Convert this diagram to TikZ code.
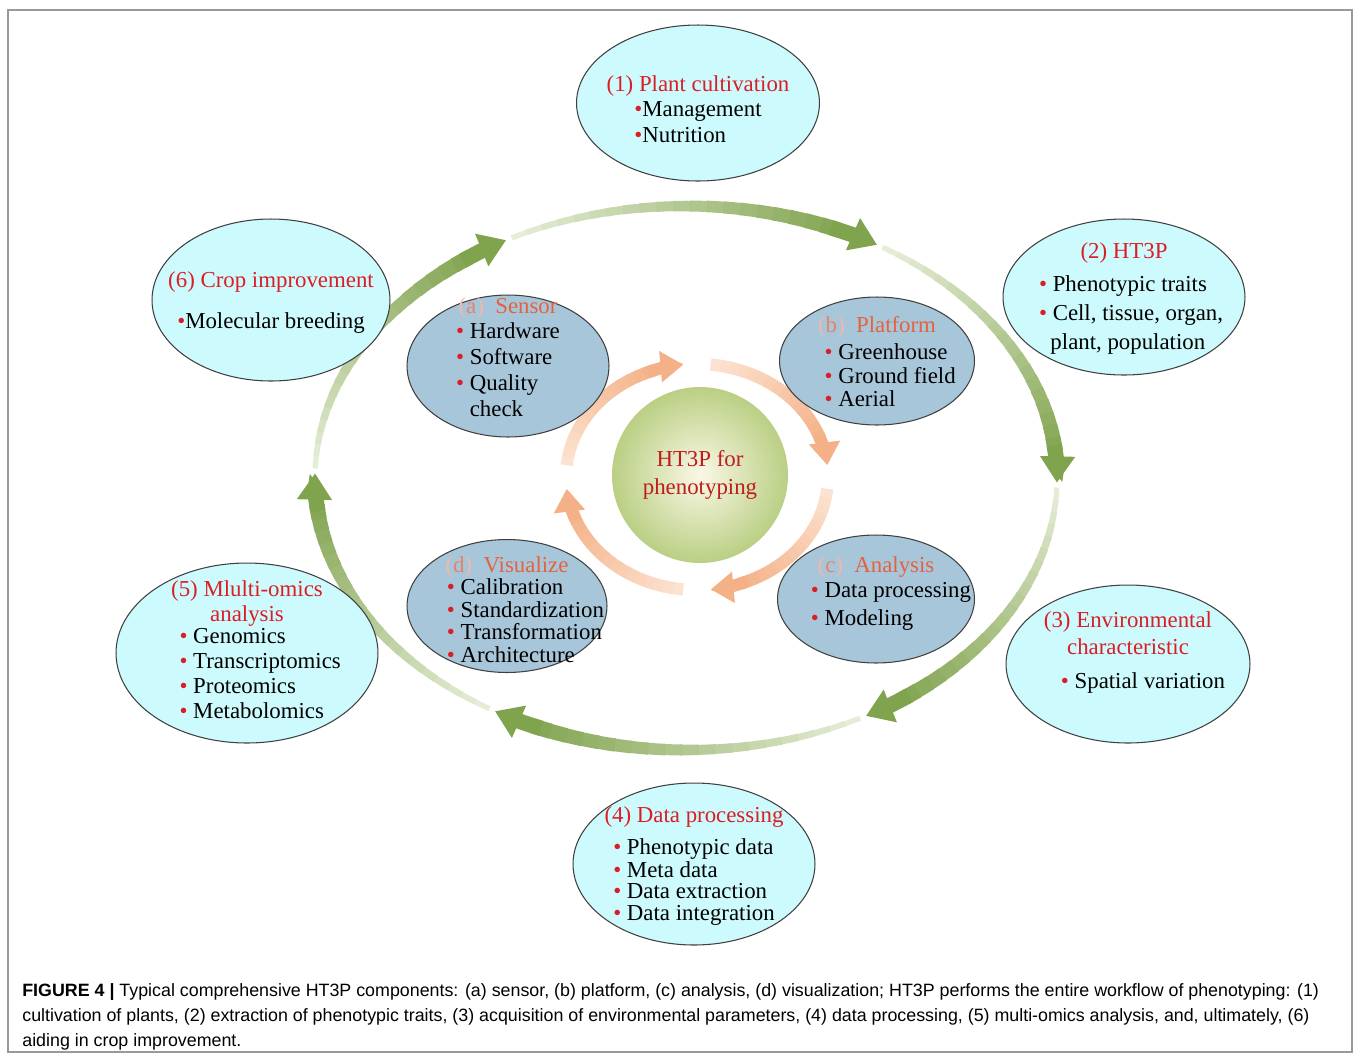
\documentclass[tikz,border=0pt]{standalone}
\usepackage{fontspec}
\setmainfont{Liberation Serif}
\newfontfamily\capfont{Liberation Sans}
\usetikzlibrary{shapes.geometric,arrows.meta}

\definecolor{tred}{RGB}{218,30,38}
\definecolor{subred}{RGB}{228,98,62}
\definecolor{cyanfill}{RGB}{204,250,253}
\definecolor{bluefill}{RGB}{168,198,218}
\definecolor{ringgreen}{RGB}{128,163,78}
\definecolor{ringpale}{RGB}{238,243,226}
\definecolor{ringorange}{RGB}{244,176,134}
\definecolor{orangepale}{RGB}{253,232,216}
\definecolor{hubin}{RGB}{250,248,230}
\definecolor{hubout}{RGB}{186,207,132}
\definecolor{hubtext}{RGB}{190,28,30}

\newcommand{\ttl}[1]{{\color{tred}#1}}
\newcommand{\subttl}[2]{{\color{subred!45}(}{\color{subred!80}#1}{\color{subred!45})}~~{\color{subred}#2}}
\newcommand{\itm}{{\color{tred}\textbullet}~}
\newcommand{\itmtight}{{\color{tred}\textbullet}}
\newcommand{\ind}{\phantom{\textbullet~}}
\newcommand{\itemsblock}[2][1]{{\renewcommand{\arraystretch}{#1}\begin{tabular}[t]{@{}l@{}}#2\end{tabular}}}
% invisible struts to move a text block inside its ellipse
\newcommand{\padtop}[1]{\rule{0pt}{\dimexpr10pt+#1\relax}}
\newcommand{\padbot}[1]{\rule[-#1]{0pt}{0pt}}

\begin{document}
\begin{tikzpicture}[x=0.02cm, y=-0.02cm,
    outer/.style={ellipse, draw=black!75, line width=0.6pt, fill=cyanfill, inner sep=-40pt, align=center, font=\fontsize{13}{14.5}\selectfont},
    inner/.style={outer, fill=bluefill},
    hub/.style={circle, minimum size=3.52cm, inner sep=0pt, shade, inner color=hubin, outer color=hubout, align=center, text=hubtext, font=\fontsize{13}{16}\selectfont}]

    \useasboundingbox (0,0) rectangle (1360,1056);
    \draw[black!40, line width=0.6pt] (8,10) rectangle (1352,1052);

    % outer green cycle
    \foreach \k in {0,...,5}{
        \foreach \i in {0,...,19}{
            \pgfmathsetmacro{\sa}{-118+60*\k+2.6*\i}
            \pgfmathsetmacro{\sb}{\sa+2.9}
            \pgfmathsetmacro{\w}{3+0.3*\i}
            \pgfmathtruncatemacro{\c}{8+4.6*\i}
            \draw[ringgreen!\c!ringpale, line width=\w pt] (686,478) ++(\sa:371 and 272) arc[start angle=\sa, end angle=\sb, x radius=371, y radius=272];
        }
        \pgfmathsetmacro{\ta}{-118+60*\k+51}
        \pgfmathsetmacro{\tb}{\ta+8}
        \draw[ringgreen, line width=8.8pt, -{Triangle[width=19pt,length=15pt]}] (686,478) ++(\ta:371 and 272) arc[start angle=\ta, end angle=\tb, x radius=371, y radius=272];
    }

    % inner orange cycle
    \foreach \k in {0,...,3}{
        \foreach \i in {0,...,14}{
            \pgfmathsetmacro{\sa}{-84+90*\k+4.3*\i}
            \pgfmathsetmacro{\sb}{\sa+4.6}
            \pgfmathtruncatemacro{\c}{10+6*\i}
            \draw[ringorange!\c!orangepale, line width=7pt] (697,477) ++(\sa:131 and 113) arc[start angle=\sa, end angle=\sb, x radius=131, y radius=113];
        }
        \pgfmathsetmacro{\ta}{-84+90*\k+62}
        \pgfmathsetmacro{\tb}{\ta+16}
        \draw[ringorange, line width=7pt, -{Triangle[width=17pt,length=13pt]}] (697,477) ++(\ta:131 and 113) arc[start angle=\ta, end angle=\tb, x radius=131, y radius=113];
    }

    \node[hub] (hub) at (700,475) {HT3P for\\phenotyping};

    % components
    \node[inner, minimum width=4.04cm, minimum height=2.84cm] (sensor) at (508,366)
        {\subttl{a}{Sensor}\\\itemsblock[1.02]{\itm Hardware\\\itm Software\\\itm Quality\\\ind check\padbot{10pt}}};
    \node[inner, minimum width=3.9cm, minimum height=2.56cm] (platform) at (877,361)
        {\padtop{4pt}\subttl{b}{Platform}\\[1pt]\hspace*{15pt}\itemsblock[0.92]{\itm Greenhouse\\\itm Ground field\\\itm Aerial}};
    \node[inner, minimum width=3.94cm, minimum height=2.56cm] (analysis) at (876,599)
        {\subttl{c}{Analysis}\\\hspace*{17pt}\itemsblock[1.1]{\itm Data processing\\\itm Modeling\padbot{9pt}}};
    \node[inner, minimum width=4cm, minimum height=2.66cm] (visual) at (507,606)
        {\padtop{6.8pt}\subttl{d}{Visualize}\\[-2pt]\hspace*{21pt}\itemsblock[0.86]{\itm Calibration\\\itm Standardization\\\itm Transformation\\\itm Architecture}};

    % workflow
    \node[outer, minimum width=4.86cm, minimum height=3.12cm] (cult) at (698,103)
        {\padtop{10pt}\ttl{(1) Plant cultivation}\\\itemsblock{\itmtight Management\\\itmtight Nutrition}};
    \node[outer, minimum width=4.84cm, minimum height=3.12cm] (traits) at (1124,297)
        {\padtop{3.4pt}\ttl{(2) HT3P}\\[4pt]\hspace*{8pt}\itemsblock[1.15]{\itm Phenotypic traits\\\itm Cell, tissue, organ,\\\hspace*{0.5em}plant, population}};
    \node[outer, minimum width=4.88cm, minimum height=3.16cm] (env) at (1128,664)
        {\ttl{(3) Environmental}\\[1pt]\ttl{characteristic}\\[5pt]\hspace*{17pt}\itemsblock{\itm Spatial variation\padbot{16pt}}};
    \node[outer, minimum width=4.84cm, minimum height=3.24cm] (data) at (694,864)
        {\padtop{2.3pt}\ttl{(4) Data processing}\\[4pt]\itemsblock[0.85]{\itm Phenotypic data\\\itm Meta data\\\itm Data extraction\\\itm Data integration}};
    \node[outer, minimum width=5.24cm, minimum height=3.6cm] (omics) at (247,653)
        {\ttl{(5) Mlulti-omics}\\\ttl{analysis}\\[-2pt]\hspace*{15pt}\itemsblock[0.97]{\itm Genomics\\\itm Transcriptomics\\\itm Proteomics\\\itm Metabolomics}};
    \node[outer, minimum width=4.76cm, minimum height=3.24cm] (crop) at (271,300)
        {\padtop{3.4pt}\ttl{(6) Crop improvement}\\[9pt]\itemsblock{\itmtight Molecular breeding}};

    \node[anchor=north west, inner sep=0pt, align=left, font=\capfont\fontsize{10.15}{14.2}\selectfont] (caption) at (22,983)
        {\textbf{FIGURE 4 |} Typical comprehensive HT3P components: (a) sensor, (b) platform, (c) analysis, (d) visualization; HT3P performs the entire workflow of phenotyping: (1)\\
        cultivation of plants, (2) extraction of phenotypic traits, (3) acquisition of environmental parameters, (4) data processing, (5) multi-omics analysis, and, ultimately, (6)\\
        aiding in crop improvement.};
\end{tikzpicture}
\end{document}
